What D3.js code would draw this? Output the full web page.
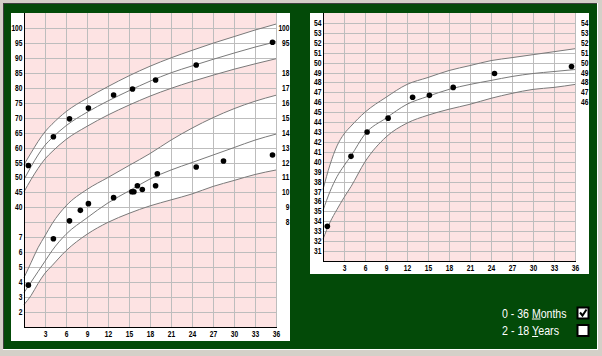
<!DOCTYPE html>
<html><head><meta charset="utf-8">
<script src="https://cdn.jsdelivr.net/npm/d3@7/dist/d3.min.js"></script>
<style>
html,body{margin:0;padding:0;background:#d4d0c8;}
svg{display:block;}
.tick{font-family:"Liberation Sans",Arial,sans-serif;font-weight:bold;font-size:8.5px;fill:#000;}
.leg{font-family:"Liberation Sans",Arial,sans-serif;font-size:13px;fill:#fff;}
</style></head><body>
<svg id="c" width="602" height="356"></svg>
<script>
// ---------- data ----------
const months = [0,1,2,3,4,6,9,12,15,18,21,24,27,30,33,36];
const lenUpper = [54.3,58.2,62,65.3,67.8,72,76.5,80.4,84,87.2,90,92.5,94.9,97.1,99.3,101.3];
const lenMid   = [49.3,53.6,57.5,60.8,63.2,67.3,71.8,75.6,79,82.2,85,87.3,89.5,91.6,93.6,95.4];
const lenLower = [45.2,49.3,53,56.2,58.6,62.7,67.1,70.9,74.2,77.2,79.8,82.1,84.2,86.2,88,89.7];
const wtUpper  = [4.3,5.3,6.3,7.1,7.9,9.1,10.2,11.0,11.8,12.6,13.5,14.3,15.0,15.6,16.1,16.5];
const wtMid    = [3.3,4.0,4.7,5.4,6.1,7.2,8.3,9.3,10.1,10.9,11.5,12.0,12.5,13.0,13.5,13.9];
const wtLower  = [2.5,3.1,3.9,4.6,5.1,6.1,7.2,8.0,8.6,9.1,9.5,9.9,10.4,10.8,11.2,11.5];
const hcUpper  = [37.2,39.7,41.6,42.8,43.6,45,46.5,47.8,48.5,49.2,49.7,50.2,50.5,50.8,51.1,51.4];
const hcMid    = [35.1,37,38.5,39.6,40.6,42.8,44.4,45.8,46.6,47.3,47.8,48.2,48.6,48.9,49.1,49.3];
const hcLower  = [32.2,33.9,35.2,36.4,37.5,40,42.5,43.9,44.7,45.3,45.8,46.4,46.9,47.3,47.5,47.8];

const lenAges = [0.62,4.2,6.5,9.2,12.8,15.5,18.8,24.6,35.5];
const lenVals = [54,63.6,69.6,73.2,77.6,79.6,82.6,87.6,95.2];
const wtAges  = [0.62,4.2,6.5,8.05,9.2,12.8,15.4,15.7,16.2,16.9,18.8,19.05,24.6,28.5,35.5];
const wtVals  = [3.8,6.9,8.1,8.8,9.25,9.65,10.05,10.05,10.45,10.2,10.45,11.25,11.7,12.1,12.5];
const hcAges  = [0.62,4,6.3,9.3,12.8,15.2,18.6,24.5,35.5];
const hcVals  = [33.5,40.55,43.0,44.4,46.5,46.7,47.5,48.9,49.6];

const xTicks = [3,6,9,12,15,18,21,24,27,30,33,36];
const lenTicksLeft = [100,95,90,85,80,75,70,65,60,55,50,45,40];
const wtTicksLeft = [7,6,5,4,3,2];
const lenTicksRight = [100,95];
const wtTicksRight = [18,17,16,15,14,13,12,11,10,9,8];
const hcTicksLeft = d3.range(54,30,-1);
const hcTicksRight = [54,53,52,51,50,49,48,47,46];
const legendLabels = ["0 - 36 Months","2 - 18 Years"];
const legendUnderline = [7,7];   // index of the underlined access-key letter
const legendChecked = [true,false];

// ---------- drawing ----------
const svg = d3.select("#c");
const PINK="#fde3e3", GRID="#bdbdbd", CURVE="#7a7a7a";
const DIGW = 3.7;

// frame
svg.append("rect").attr("x",0).attr("y",0).attr("width",602).attr("height",356).attr("fill","#d4d0c8");
svg.append("rect").attr("x",3).attr("y",3).attr("width",595).attr("height",347).attr("fill","#fff");
svg.append("rect").attr("x",3).attr("y",3).attr("width",594).attr("height",346).attr("fill","#404040");
svg.append("rect").attr("x",4).attr("y",4).attr("width",593).attr("height",345).attr("fill","#034a08");

function tickText(g, xx, yy, v, anchor){
  const s = String(v);
  return g.append("text").attr("class","tick").attr("x",xx).attr("y",yy)
    .attr("text-anchor",anchor)
    .attr("textLength", s.length*DIGW).attr("lengthAdjust","spacingAndGlyphs").text(s);
}

function panel(o){
  const g = svg.append("g");
  g.append("rect").attr("x",o.wx).attr("y",o.wy).attr("width",o.ww).attr("height",o.wh).attr("fill","#fff");
  const x = d3.scaleLinear().domain([0,36]).range([o.x0,o.x1]);
  g.append("rect").attr("x",o.x0).attr("y",o.yTop).attr("width",o.x1-o.x0+1).attr("height",o.yBot-o.yTop).attr("fill",PINK);
  o.sets.forEach(s=>{
    const area = d3.area().curve(d3.curveMonotoneX)
      .x((d,i)=>x(months[i])).y0((d,i)=>s.y(s.lo[i])).y1((d,i)=>s.y(s.up[i]));
    g.append("path").attr("d",area(months)).attr("fill","#fff");
  });
  o.hGrid.forEach(v=>{
    const yy = Math.round(o.gy(v))+0.5;
    g.append("line").attr("x1",o.x0).attr("x2",o.x1+1).attr("y1",yy).attr("y2",yy).attr("stroke",GRID);
  });
  xTicks.forEach(v=>{
    const xx = Math.round(x(v))+0.5;
    g.append("line").attr("x1",xx).attr("x2",xx).attr("y1",o.yTop).attr("y2",o.yBot).attr("stroke",GRID);
  });
  o.sets.forEach(s=>{
    [s.up,s.mid,s.lo].forEach(arr=>{
      const line = d3.line().curve(d3.curveMonotoneX).x((d,i)=>x(months[i])).y((d,i)=>s.y(arr[i]));
      g.append("path").attr("d",line(months)).attr("fill","none").attr("stroke",CURVE).attr("stroke-width",1);
    });
  });
  g.append("line").attr("x1",o.x0+0.5).attr("x2",o.x0+0.5).attr("y1",o.yTop).attr("y2",o.yBot+1).attr("stroke","#000");
  g.append("line").attr("x1",o.x0).attr("x2",o.x1+1).attr("y1",o.yBot+0.5).attr("y2",o.yBot+0.5).attr("stroke","#000");
  xTicks.forEach(v=>tickText(g, x(v)+0.5, o.yBot+10, v, "middle"));
  o.labels.forEach(L=>{
    L.vals.forEach(v=>tickText(g, L.x, L.y(v)+3, v, "end"));
  });
  o.dots.forEach(D=>{
    D.ages.forEach((a,i)=>{
      g.append("circle").attr("cx",x(a)).attr("cy",D.y(D.vals[i])).attr("r",2.8).attr("fill","#000");
    });
  });
}

const yLen = d3.scaleLinear().domain([0,105]).range([327,13]);
const yWt  = d3.scaleLinear().domain([1,22]).range([327,13]);
panel({
  wx:11,wy:13,ww:279,wh:328, x0:24,x1:276, yTop:13, yBot:327,
  gy:yWt, hGrid:d3.range(2,22,1),
  sets:[{y:yLen,up:lenUpper,mid:lenMid,lo:lenLower},{y:yWt,up:wtUpper,mid:wtMid,lo:wtLower}],
  labels:[{x:22.5,y:yLen,vals:lenTicksLeft},{x:22.5,y:yWt,vals:wtTicksLeft},
          {x:289.5,y:yLen,vals:lenTicksRight},{x:289.5,y:yWt,vals:wtTicksRight}],
  dots:[{ages:lenAges,vals:lenVals,y:yLen},{ages:wtAges,vals:wtVals,y:yWt}]
});

const yHc = d3.scaleLinear().domain([30,55]).range([261,13]);
panel({
  wx:310,wy:13,ww:279,wh:261, x0:323,x1:575, yTop:13, yBot:261,
  gy:yHc, hGrid:d3.range(31,55,1),
  sets:[{y:yHc,up:hcUpper,mid:hcMid,lo:hcLower}],
  labels:[{x:321.5,y:yHc,vals:hcTicksLeft},{x:588.5,y:yHc,vals:hcTicksRight}],
  dots:[{ages:hcAges,vals:hcVals,y:yHc}]
});

// legend (checkbox labels)
const legY = [317.5,335], legW = [64.5,57];
legendLabels.forEach((lab,k)=>{
  const t = svg.append("text").attr("class","leg").attr("x",502).attr("y",legY[k])
    .attr("textLength",legW[k]).attr("lengthAdjust","spacingAndGlyphs").text(lab);
  const node = t.node();
  try{
    const ext = node.getExtentOfChar(legendUnderline[k]);
    svg.append("line").attr("x1",ext.x).attr("x2",ext.x+ext.width)
      .attr("y1",legY[k]+1.5).attr("y2",legY[k]+1.5).attr("stroke","#fff").attr("stroke-width",1);
  }catch(e){}
  svg.append("rect").attr("x",577.5).attr("y",legY[k]-10).attr("width",11).attr("height",11)
    .attr("fill","#fff").attr("stroke","#000").attr("stroke-width",2);
  if(legendChecked[k]){
    svg.append("path").attr("d",`M580,${legY[k]-5} l2.5,3 l4,-6`).attr("fill","none")
      .attr("stroke","#000").attr("stroke-width",2);
  }
});
</script>
</body></html>
